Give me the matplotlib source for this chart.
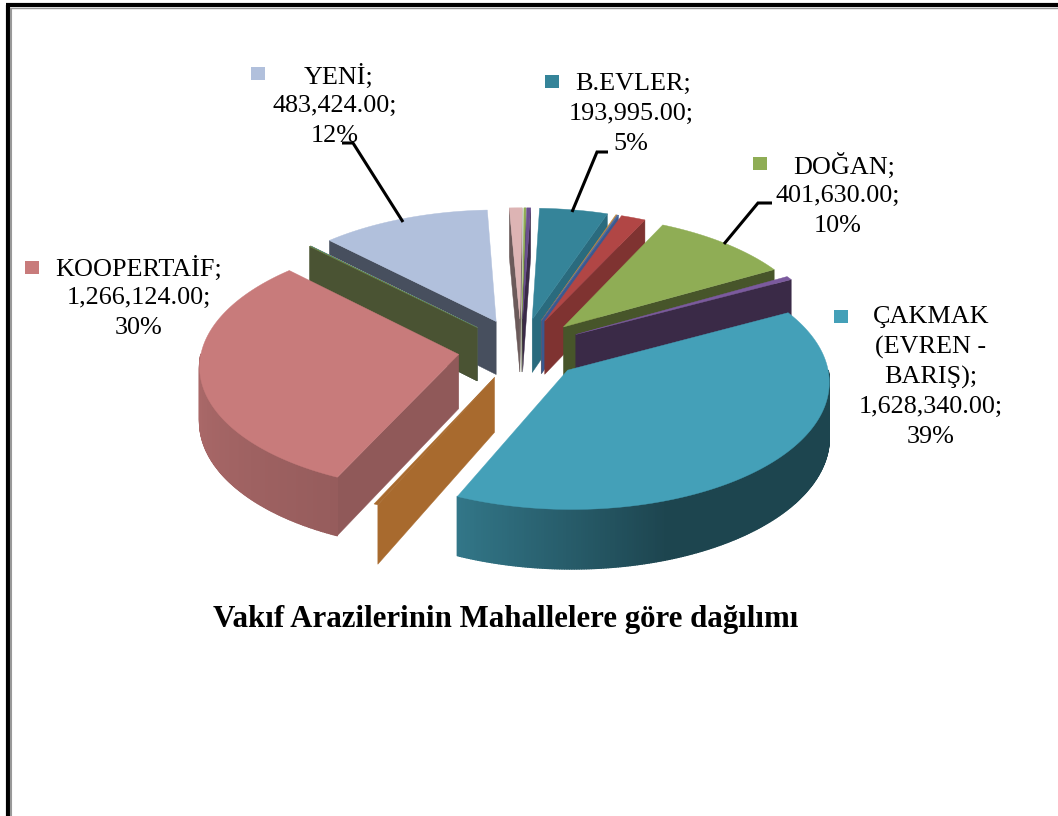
import numpy as np
import matplotlib
matplotlib.use("Agg")
import matplotlib.pyplot as plt
from matplotlib.patches import Polygon, Rectangle

# ---- data (clockwise from the top) ----
categories = ["B.EVLER", "thin1", "thin2", "red", "DOĞAN", "purple", "ÇAKMAK",
              "orange", "KOOPERTAİF", "darkgreen", "teal", "tan", "YENİ", "pink", "olive", "violet"]
values = [193995, 3500, 3500, 70000, 401630, 20000, 1628340,
          10000, 1266124, 3000, 1000, 500, 483424, 36000, 6000, 11000]
top_colors = ["#358499", "#C08A3E", "#4F6FA8", "#B14645", "#8FAD55", "#7B5A9E", "#44A0B8",
              "#A86A2E", "#C87B7B", "#6E8040", "#44A0B8", "#E0A070", "#B1C0DC", "#DDB4B4", "#8FAD55", "#6B4F90"]
face_colors = ["#2A6B7E", "#8A6430", "#3A5A90", "#7F3331", "#47552A", "#3A2A47", "#2A6070",
               "#A86A2E", "#905959", "#4A5333", "#2A6070", "#A86A2E", "#474F5E", "#6B5A5A", "#47552A", "#3A2A47"]

label_lines = [
    (["YENİ;", "483,424.00;", "12%"], 335, 4, 76),
    (["B.EVLER;", "193,995.00;", "5%"], 631, 2, 84),
    (["DOĞAN;", "401,630.00;", "10%"], 838, 6, 166),
    (["ÇAKMAK", "(EVREN -", "BARIŞ);", "1,628,340.00;", "39%"], 931, 0, 317),
    (["KOOPERTAİF;", "1,266,124.00;", "30%"], 139, 0, 268),
]
key_squares = [("#B1C0DC", 258, 73), ("#358499", 552, 81), ("#8FAD55", 760, 163),
               ("#44A0B8", 841, 316), ("#C87B7B", 32, 267)]
leaders = [([403, 353, 342], [222, 143, 143]),
           ([572, 597, 608], [212, 152, 152]),
           ([724, 758, 772], [244, 203, 203])]
title = "Vakıf Arazilerinin Mahallelere göre dağılımı"

# ---- layout ----
W, H = 1058, 816
CX, CY = 521, 349
R = 257
EXPLODE = 63
K = 0.485
P = 0.00031
DEPTH = 54
START = 88.0

plt.rcParams['font.family'] = ['Liberation Serif', 'DejaVu Serif']
fig = plt.figure(figsize=(W / 100, H / 100), dpi=100)
ax = fig.add_axes([0, 0, 1, 1])
ax.set_xlim(0, W)
ax.set_ylim(H, 0)
ax.axis("off")


def project(X, Y, drop=0.0):
    f = 1 / (1 + P * Y)
    return CX + X * f, CY - K * Y * f + drop * f


def shade(color, theta):
    rgb = np.array(matplotlib.colors.to_rgb(color))
    t = theta % 360
    return tuple(rgb * np.interp(t, [180, 245, 290, 360], [0.87, 0.75, 0.43, 0.43]))


vals = np.array(values, float)
spans = vals / vals.sum() * 360
ends = START - np.cumsum(spans)
starts = ends + spans
mids = (starts + ends) / 2
order = np.argsort(-np.sin(np.radians(mids)))

for i in order:
    lo, hi, mid = ends[i], starts[i], np.radians(mids[i])
    ox, oy = EXPLODE * np.cos(mid), EXPLODE * np.sin(mid)
    th = np.linspace(lo, hi, max(3, int((hi - lo) * 2) + 2))
    rad = np.radians(th)
    X = ox + R * np.cos(rad)
    Y = oy + R * np.sin(rad)

    # radial cut faces
    for edge, normal in ((lo, lo - 90), (hi, hi + 90)):
        if np.sin(np.radians(normal)) < 0:
            a = np.radians(edge)
            ex, ey = ox + R * np.cos(a), oy + R * np.sin(a)
            pts = [project(ox, oy), project(ex, ey), project(ex, ey, DEPTH), project(ox, oy, DEPTH)]
            ax.add_patch(Polygon(pts, closed=True, fc=face_colors[i], ec=face_colors[i], lw=0.3))

    # outer wall as shaded strips (slivers show no wall)
    if hi - lo > 2:
        for j in range(len(th) - 1):
            if np.sin(rad[j]) + np.sin(rad[j + 1]) < 0:
                pts = [project(X[j], Y[j]), project(X[j + 1], Y[j + 1]),
                       project(X[j + 1], Y[j + 1], DEPTH), project(X[j], Y[j], DEPTH)]
                c = shade(top_colors[i], (th[j] + th[j + 1]) / 2)
                ax.add_patch(Polygon(pts, closed=True, fc=c, ec=c, lw=1.0, joinstyle="round"))

    # top surface
    top = [project(ox, oy)] + [project(x, y) for x, y in zip(X, Y)]
    ax.add_patch(Polygon(top, closed=True, fc=top_colors[i], ec=top_colors[i], lw=0.3))

# leaders, keys, labels
for xs, ys in leaders:
    ax.plot(xs, ys, color="black", lw=2.2, solid_capstyle="butt", solid_joinstyle="miter")
for c, x, y in key_squares:
    ax.add_patch(Rectangle((x - 7, y - 6.5), 14, 13, fc=c, ec="none"))
LINE = 30
for lines, x, dx, y in label_lines:
    for n, s in enumerate(lines):
        ax.text(x + (dx if n == 0 else 0), y + n * LINE, s, ha="center", va="center",
                fontsize=18.8, color="black")
ax.text(506, 620, title, ha="center", va="center", fontsize=22.2, fontweight="bold", color="black")

# frame
ax.plot([8, 8], [H, 5], color="black", lw=3.0, solid_capstyle="butt")
ax.plot([6, W], [5, 5], color="black", lw=3.0, solid_capstyle="butt")
ax.plot([11, 11], [H, 7.5], color="#999999", lw=1.5, solid_capstyle="butt")
ax.plot([10, W], [7.8, 7.8], color="#999999", lw=1.0, solid_capstyle="butt")

fig.savefig("out.png", dpi=100)
